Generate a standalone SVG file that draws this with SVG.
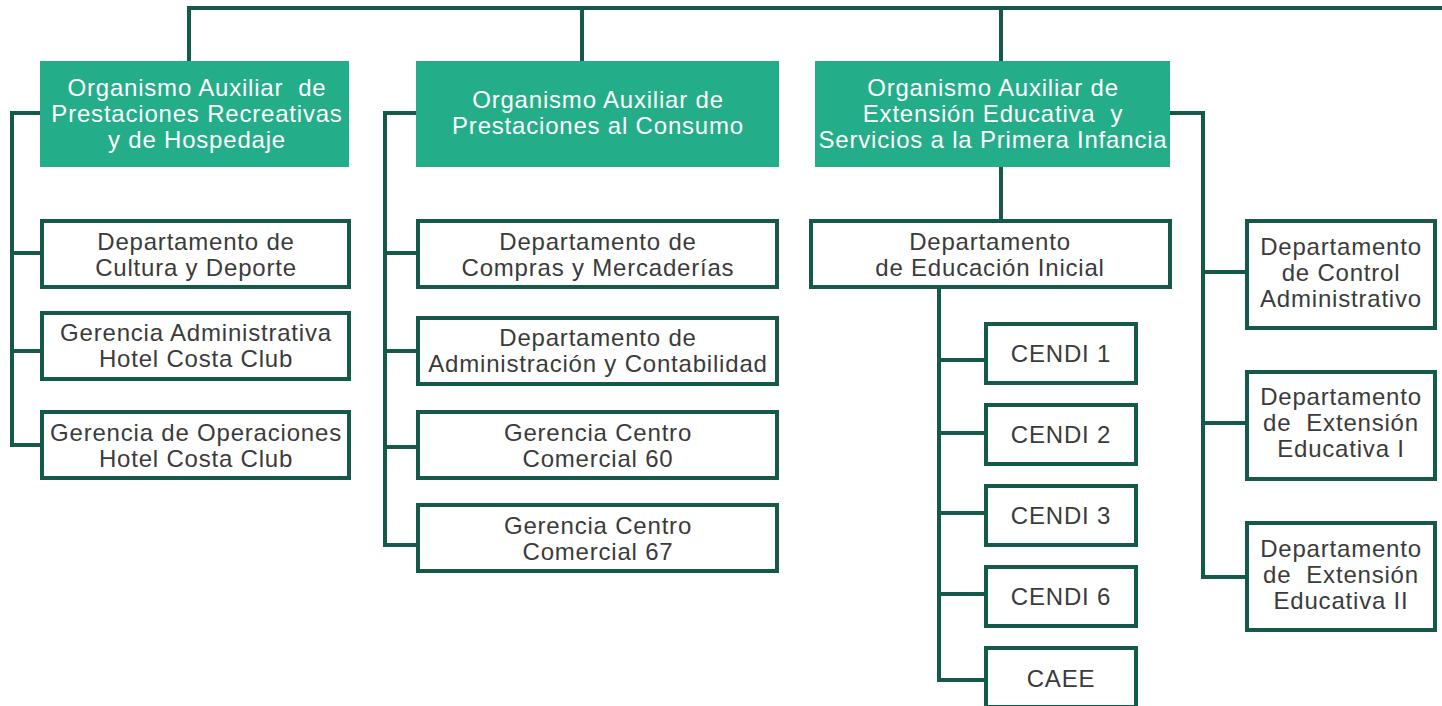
<svg xmlns="http://www.w3.org/2000/svg" width="1442" height="706" viewBox="0 0 1442 706">
<style>
text{white-space:pre;font-family:"Liberation Sans",Arial,sans-serif;font-size:24px;letter-spacing:0.8px;text-anchor:middle;}
.head rect{fill:#23AD88;}
.head text{fill:#ffffff;}
.box rect{fill:#ffffff;stroke:#14594A;stroke-width:4;}
.box text{fill:#3b3b3b;}
.conn path{fill:none;stroke:#14594A;stroke-width:4;stroke-linejoin:miter;}
</style>
<rect width="1442" height="706" fill="#ffffff"/>
<g id="connectors" class="conn">
<path d="M189,61 V8 H1442"/>
<path d="M582,8 V61"/>
<path d="M1001,8 V61"/>
<path d="M40,113 H12 V445 H42 M12,253 H42 M12,351 H42"/>
<path d="M416,113 H385 V545 H418 M385,253 H418 M385,351 H418 M385,447 H418"/>
<path d="M1001,167 V221"/>
<path d="M939,289 V680 H986 M939,360 H986 M939,433 H986 M939,513 H986 M939,594 H986"/>
<path d="M1170,113 H1203 V577 H1247 M1203,272 H1247 M1203,423 H1247"/>
</g>
<g id="n-recreativas" class="head">
<rect x="40" y="61" width="309" height="106"/>
<text x="197" y="96" xml:space="preserve">Organismo Auxiliar  de</text>
<text x="197" y="122">Prestaciones Recreativas</text>
<text x="197" y="148">y de Hospedaje</text>
</g>
<g id="n-consumo" class="head">
<rect x="416" y="61" width="363" height="106"/>
<text x="598" y="108">Organismo Auxiliar de</text>
<text x="598" y="134">Prestaciones al Consumo</text>
</g>
<g id="n-extension" class="head">
<rect x="815" y="61" width="355" height="106"/>
<text x="993" y="96">Organismo Auxiliar de</text>
<text x="993" y="122" xml:space="preserve">Extensión Educativa  y</text>
<text x="993" y="148">Servicios a la Primera Infancia</text>
</g>
<g id="n-cultura" class="box">
<rect x="42" y="221" width="307" height="66"/>
<text x="196" y="250">Departamento de</text>
<text x="196" y="276">Cultura y Deporte</text>
</g>
<g id="n-ger-admin" class="box">
<rect x="42" y="313" width="307" height="66"/>
<text x="196" y="341">Gerencia Administrativa</text>
<text x="196" y="367">Hotel Costa Club</text>
</g>
<g id="n-ger-oper" class="box">
<rect x="42" y="412" width="307" height="66"/>
<text x="196" y="441">Gerencia de Operaciones</text>
<text x="196" y="467">Hotel Costa Club</text>
</g>
<g id="n-compras" class="box">
<rect x="418" y="221" width="359" height="66"/>
<text x="598" y="250">Departamento de</text>
<text x="598" y="276">Compras y Mercaderías</text>
</g>
<g id="n-contab" class="box">
<rect x="418" y="318" width="359" height="66"/>
<text x="598" y="346">Departamento de</text>
<text x="598" y="372">Administración y Contabilidad</text>
</g>
<g id="n-cc60" class="box">
<rect x="418" y="412" width="359" height="66"/>
<text x="598" y="441">Gerencia Centro</text>
<text x="598" y="467">Comercial 60</text>
</g>
<g id="n-cc67" class="box">
<rect x="418" y="505" width="359" height="66"/>
<text x="598" y="534">Gerencia Centro</text>
<text x="598" y="560">Comercial 67</text>
</g>
<g id="n-educ-inicial" class="box">
<rect x="811" y="221" width="359" height="66"/>
<text x="990" y="250">Departamento</text>
<text x="990" y="276">de Educación Inicial</text>
</g>
<g id="n-cendi1" class="box">
<rect x="986" y="324" width="150" height="59"/>
<text x="1061" y="362">CENDI 1</text>
</g>
<g id="n-cendi2" class="box">
<rect x="986" y="405" width="150" height="59"/>
<text x="1061" y="443">CENDI 2</text>
</g>
<g id="n-cendi3" class="box">
<rect x="986" y="486" width="150" height="59"/>
<text x="1061" y="524">CENDI 3</text>
</g>
<g id="n-cendi6" class="box">
<rect x="986" y="567" width="150" height="59"/>
<text x="1061" y="605">CENDI 6</text>
</g>
<g id="n-caee" class="box">
<rect x="986" y="648" width="150" height="59"/>
<text x="1061" y="687">CAEE</text>
</g>
<g id="n-control" class="box">
<rect x="1247" y="221" width="188" height="107"/>
<text x="1341" y="255">Departamento</text>
<text x="1341" y="281">de Control</text>
<text x="1341" y="307">Administrativo</text>
</g>
<g id="n-ext1" class="box">
<rect x="1247" y="372" width="188" height="107"/>
<text x="1341" y="405">Departamento</text>
<text x="1341" y="431" xml:space="preserve">de  Extensión</text>
<text x="1341" y="457">Educativa I</text>
</g>
<g id="n-ext2" class="box">
<rect x="1247" y="523" width="188" height="107"/>
<text x="1341" y="557">Departamento</text>
<text x="1341" y="583" xml:space="preserve">de  Extensión</text>
<text x="1341" y="609">Educativa II</text>
</g>
</svg>
